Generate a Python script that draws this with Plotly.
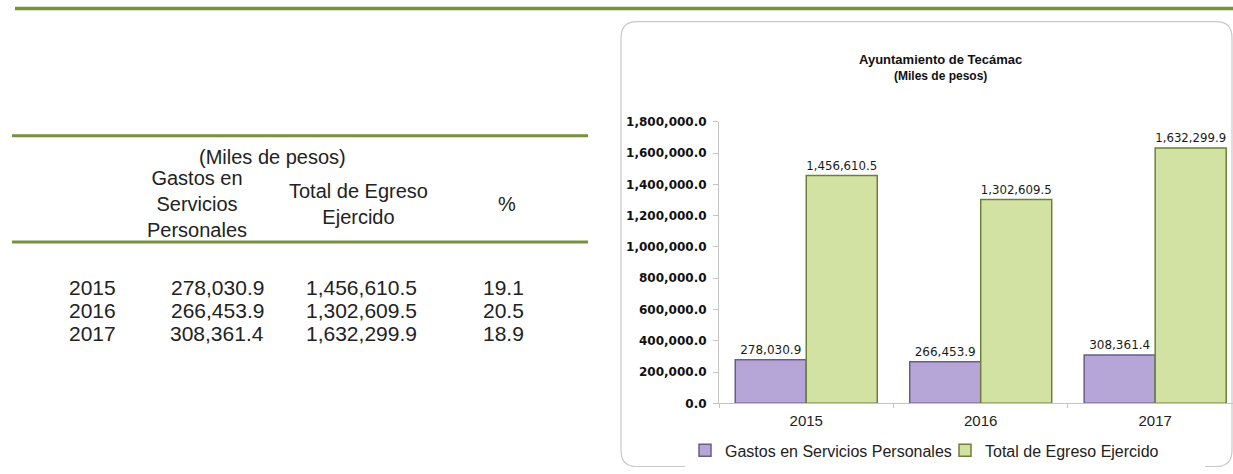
import plotly.graph_objects as go

W, H = 1233, 474

years = ["2015", "2016", "2017"]
gastos = [278030.9, 266453.9, 308361.4]
total = [1456610.5, 1302609.5, 1632299.9]
pct = [19.1, 20.5, 18.9]
series_names = ["Gastos en Servicios Personales", "Total de Egreso Ejercido"]
chart_title = "Ayuntamiento de Tecámac"
chart_subtitle = "(Miles de pesos)"
table_unit = "(Miles de pesos)"
table_headers = ["Gastos en<br>Servicios<br>Personales", "Total de Egreso<br>Ejercido", "%"]

# the page fills the viewport; measured mapping of the viewport inside the picture
TOP_OFF, VIEW_H = 7.5, 459.0


def X(px):
    return px / W


def Y(py):
    return 1 - (py - TOP_OFF) / VIEW_H


fig = go.Figure()
fig.add_trace(go.Bar(
    x=years, y=gastos, name=series_names[0],
    marker=dict(color="#B6A6D8", line=dict(color="#6A5C88", width=1.5)),
    texttemplate="%{y:,.1f}", textposition="outside",
    textfont=dict(family="DejaVu Sans", size=12, color="#1a1a1a"),
    cliponaxis=False,
))
fig.add_trace(go.Bar(
    x=years, y=total, name=series_names[1],
    marker=dict(color="#D2E2A2", line=dict(color="#6E7F3C", width=1.5)),
    texttemplate="%{y:,.1f}", textposition="outside",
    textfont=dict(family="DejaVu Sans", size=12, color="#1a1a1a"),
    cliponaxis=False,
))

annotations = []
# chart title
annotations.append(dict(x=X(940), y=Y(60), xref="paper", yref="paper", text="<b>" + chart_title + "</b>",
                        showarrow=False, font=dict(family="Liberation Sans", size=13, color="#111"),
                        xanchor="center", yanchor="middle"))
annotations.append(dict(x=X(940), y=Y(76), xref="paper", yref="paper", text="<b>" + chart_subtitle + "</b>",
                        showarrow=False, font=dict(family="Liberation Sans", size=12, color="#111"),
                        xanchor="center", yanchor="middle"))

# table
tfont = dict(family="Liberation Sans", size=21, color="#222")
hfont = dict(family="Liberation Sans", size=20, color="#222")
annotations.append(dict(x=X(272), y=Y(157), xref="paper", yref="paper", text=table_unit, showarrow=False,
                        font=hfont, xanchor="center", yanchor="middle"))
hx = [197, 358, 507]
hy = [204, 204, 204]
for t, x0, y0 in zip(table_headers, hx, hy):
    annotations.append(dict(x=X(x0), y=Y(y0), xref="paper", yref="paper", text=t, showarrow=False,
                            font=hfont, xanchor="center", yanchor="middle", align="center"))
row_y = [287, 310, 333]
for i, yr in enumerate(years):
    yy = Y(row_y[i])
    annotations.append(dict(x=X(67), y=yy, xref="paper", yref="paper", text=yr, showarrow=False,
                            font=tfont, xanchor="left", yanchor="middle"))
    annotations.append(dict(x=X(266), y=yy, xref="paper", yref="paper", text=f"{gastos[i]:,.1f}",
                            showarrow=False, font=tfont, xanchor="right", yanchor="middle"))
    annotations.append(dict(x=X(419), y=yy, xref="paper", yref="paper", text=f"{total[i]:,.1f}",
                            showarrow=False, font=tfont, xanchor="right", yanchor="middle"))
    annotations.append(dict(x=X(526), y=yy, xref="paper", yref="paper", text=f"{pct[i]:.1f}",
                            showarrow=False, font=tfont, xanchor="right", yanchor="middle"))

shapes = []
green = "#76923C"
shapes.append(dict(type="line", xref="paper", yref="paper", x0=X(15), x1=1, y0=Y(9), y1=Y(9),
                   line=dict(color=green, width=3.5)))
for yy in [136, 242]:
    shapes.append(dict(type="line", xref="paper", yref="paper", x0=X(12), x1=X(588), y0=Y(yy), y1=Y(yy),
                       line=dict(color=green, width=3)))

# rounded chart box
l, r, t, b, rad = 621, 1232, 22, 466, 16
def P(px, py):
    return f"{X(px):.6f},{Y(py):.6f}"
path = (f"M {P(l + rad, t)} L {P(r - rad, t)} Q {P(r, t)} {P(r, t + rad)} "
        f"L {P(r, b - rad)} Q {P(r, b)} {P(r - rad, b)} L {P(l + rad, b)} "
        f"Q {P(l, b)} {P(l, b - rad)} L {P(l, t + rad)} Q {P(l, t)} {P(l + rad, t)} Z")
shapes.append(dict(type="path", xref="paper", yref="paper", path=path,
                   line=dict(color="#c9c9c9", width=1.2), layer="below"))

fig.update_layout(
    autosize=True,
    margin=dict(l=0, r=0, t=0, b=0, pad=0),
    paper_bgcolor="white", plot_bgcolor="white",
    barmode="group", bargap=0.186, bargroupgap=0,
    showlegend=True,
    legend=dict(orientation="h", x=X(685), y=Y(450), xanchor="left", yanchor="middle",
                font=dict(family="Liberation Sans", size=16, color="#222"),
                entrywidth=215, itemwidth=30, traceorder="normal"),
    xaxis=dict(domain=[X(719), 1.0], range=[-0.5, 2.446], type="category",
               showline=True, linecolor="#c4c4c4", linewidth=1,
               ticks="outside", tickson="boundaries", ticklen=4, tickcolor="#c4c4c4",
               ticklabelstandoff=4,
               tickfont=dict(family="Liberation Sans", size=15, color="#222"), showgrid=False),
    yaxis=dict(domain=[Y(403), Y(122)], range=[0, 1800000], dtick=200000,
               tickformat=",.1f", showline=True, linecolor="#c4c4c4", linewidth=1,
               ticks="outside", ticklen=5, tickcolor="#c4c4c4", showgrid=False, zeroline=False,
               ticklabelstandoff=4,
               tickfont=dict(family="DejaVu Sans", size=12, color="#111", weight="bold")),
    annotations=annotations, shapes=shapes,
)

fig.write_html(
    "out.html",
    default_width="100vw",
    default_height="100vh",
    config={"displayModeBar": False, "responsive": True},
    post_script="document.documentElement.style.margin='0';document.body.style.margin='0';"
                "document.body.style.overflow='hidden';document.documentElement.style.overflow='hidden';"
                "window.dispatchEvent(new Event('resize'));",
)
